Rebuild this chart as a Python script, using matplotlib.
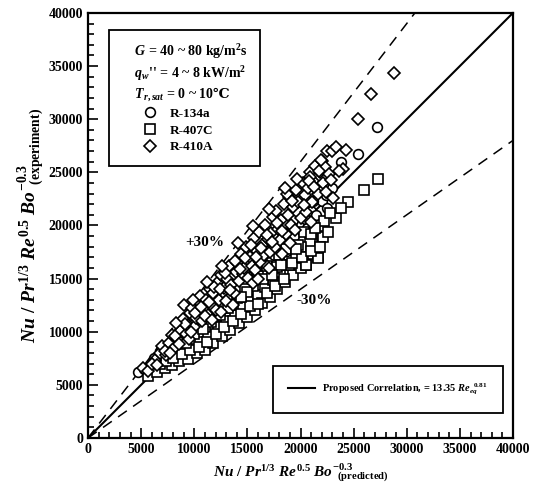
import numpy as np
import matplotlib
matplotlib.use("Agg")
import matplotlib.pyplot as plt
from matplotlib.lines import Line2D
from matplotlib.ticker import MultipleLocator

plt.rcParams['font.family'] = ['Liberation Serif', 'DejaVu Sans']
plt.rcParams['font.weight'] = 'bold'
plt.rcParams['mathtext.fontset'] = 'custom'
plt.rcParams['mathtext.rm'] = 'Liberation Serif:bold'
plt.rcParams['mathtext.it'] = 'Liberation Serif:bold:italic'
plt.rcParams['mathtext.bf'] = 'Liberation Serif:bold'
plt.rcParams['mathtext.sf'] = 'DejaVu Serif:bold'  # only used for the ℃ sign

# R-134a (circles): predicted, experiment
r134a_pred = [4700, 5300, 6200, 6900, 7500, 8000, 8500, 8800, 9300, 9600, 10100, 10600,
              11000, 11400, 11900, 12300, 12800, 13200, 13600, 14100, 14500, 14900, 15300,
              15800, 16200, 16600, 17000, 17500, 18000, 18400, 18900, 19400, 19900, 20400,
              20600, 21000, 21500, 22000, 22500, 23000, 23800, 25400, 27200,
              7200, 8300, 9900, 11600, 13000, 14700, 16400, 17800, 19300, 21200, 22400,
              18700, 12600]
r134a_exp = [6200, 6500, 7500, 8400, 8300, 9000, 9800, 9300, 10300, 11200, 10900, 11800,
             12400, 11200, 12900, 12400, 13700, 13200, 14500, 14000, 15200, 14600, 16100,
             15500, 16800, 16400, 17700, 17200, 18500, 18000, 19300, 19000, 20100, 20600,
             19800, 21400, 21000, 22300, 21600, 23500, 26000, 26700, 29300,
             7800, 8900, 10100, 12000, 14100, 15800, 17300, 19000, 20500, 22300, 22900,
             17600, 12800]

# R-407C (squares)
r407c_pred = [5600, 6500, 7200, 7900, 8600, 9400, 10300, 11000, 6800, 7600, 8300, 9000,
              9700, 10500, 11300, 11800, 12200, 12600, 13000, 13400, 13800, 14200, 14600,
              15000, 15300, 15700, 16000, 16400, 16700, 17100, 17400, 17800, 18100, 18500,
              18900, 19300, 19600, 20000, 20400, 20500, 20900, 21200, 21600, 22000, 22200,
              23300, 24500, 26000, 27300, 12000, 14000, 16000, 18000, 19000, 13500, 15500,
              17500, 10000, 11000, 12800, 14800, 16800, 18600, 20300, 21000, 17800, 18900,
              20000, 20500, 21600, 22100,
              7300, 8000, 8800, 9600, 10400, 11200, 12000, 12800, 13600, 14400, 15200,
              16000, 16800, 17600, 18400, 19200, 20100, 21000, 21800, 22600, 9200, 11600,
              13200, 15000, 16500, 18200, 19800, 21400, 22800, 23800, 10800, 12400, 14400,
              17300, 19600]
r407c_exp = [5800, 6200, 6600, 6900, 7200, 7400, 8000, 8300, 7000, 7700, 8100, 8600,
             9300, 9000, 9700, 8900, 10400, 9600, 11000, 10200, 11600, 10800, 12300,
             11400, 13000, 12000, 13500, 12700, 14200, 13300, 14900, 14000, 15600, 14700,
             16300, 15300, 17000, 16000, 17700, 16300, 18400, 17300, 17000, 19000, 20400,
             20700, 22200, 23300, 24400, 11500, 13200, 15200, 17200, 18000, 12500, 14300,
             16000, 9800, 10400, 12200, 14000, 16200, 17800, 19400, 19200, 16100, 16300,
             18000, 16300, 16900, 18900,
             7200, 7500, 7900, 8300, 8600, 9000, 9800, 10400, 11000, 11700, 12400,
             12600, 13600, 14300, 15000, 16500, 17000, 17600, 18000, 19400, 8900, 10900,
             12200, 13700, 15000, 16300, 18200, 19800, 21200, 21600, 10300, 11600, 13300,
             15300, 17800]

# R-410A (diamonds)
r410a_pred = [5200, 5600, 6300, 6800, 7000, 7300, 7600, 7900, 8100, 8400, 8700, 8900,
              9000, 9200, 9400, 9600, 9800, 10000, 10200, 10400, 10500, 10700, 10900, 11100,
              11300, 11500, 11600, 11800, 12000, 12100, 12300, 12500, 12700, 12800, 13000,
              13100, 13300, 13500, 13700, 13900, 14000, 14200, 14400, 14600, 14700, 14900,
              15100, 15200, 15400, 15600, 15700, 15900, 16100, 16200, 16400, 16600, 16700,
              16900, 17100, 17200, 17400, 17600, 17700, 17900, 18100, 18200, 18400, 18600,
              18800, 18900, 19100, 19300, 19500, 19600, 19800, 20000, 20200, 20400, 20500,
              20700, 20900, 21100, 21200, 21400, 21600, 21800, 22000, 22100, 22300, 22500,
              22700, 23000, 23300, 23100, 24000, 25400, 26600, 28800, 15500, 17000, 12500,
              9500, 19000, 21000, 20900, 21700,
              6000, 6500, 7200, 7700, 8200, 8600, 9100, 9700, 10100, 10600, 11000, 11400,
              11900, 12400, 12900, 13400, 13800, 14300, 14800, 15300, 15800, 16300, 16800,
              17300, 17800, 18300, 18700, 19200, 19700, 20300, 20800, 21300, 21900, 22400,
              8300, 9900, 11200, 12600, 14100, 15500, 17000, 18500, 13600, 16000, 18300,
              11700, 22900, 24300, 23600]
r410a_exp = [6600, 6300, 7300, 8000, 8700, 7800, 8900, 9700, 8500, 9300, 10100, 11200,
             12500, 9800, 10600, 11800, 12200, 10400, 11300, 12800, 13400, 11000, 12100, 13000,
             11600, 14000, 12500, 13600, 12000, 14600, 13000, 15300, 13700, 14100, 12900,
             15000, 16200, 14400, 13600, 15600, 16500, 14800, 17300, 15400, 16000, 18000,
             15100, 17000, 16200, 18800, 15800, 17600, 19400, 16600, 18200, 17200, 20000,
             18700, 17500, 19300, 20800, 18000, 21400, 19700, 18600, 20500, 22000, 19200,
             21000, 22700, 20000, 21700, 19600, 23300, 22200, 20700, 24000, 22900, 21300,
             23500, 25000, 22200, 24200, 25600, 23000, 25000, 26100, 24000, 25500, 27000,
             24800, 27000, 27400, 22600, 25300, 30000, 32400, 34300, 14600, 16000, 11900,
             9300, 18300, 20300, 24600, 25100,
             7000, 6900, 8200, 8000, 9600, 8800, 10700, 10000, 11800, 12300, 11500, 12800,
             14200, 14000, 15500, 13900, 16700, 15900, 16900, 18200, 17000, 17900, 19100,
             18400, 20200, 19500, 23000, 22300, 24400, 21900, 24200, 23600, 26200, 23100,
             10800, 13000, 14700, 16200, 18300, 19900, 21500, 23500, 12500, 15000, 17300,
             11100, 24300, 27100, 25100]

fig = plt.figure(figsize=(5.4, 4.96), dpi=100)
ax = fig.add_axes([0.163, 0.117, 0.787, 0.857])

ref = np.array([0, 40000])
ax.plot(ref, ref, color='black', lw=1.5, zorder=2)
ax.plot(ref, 1.3 * ref, color='black', lw=1.1, dashes=(7, 5), zorder=2)
ax.plot(ref, 0.7 * ref, color='black', lw=1.1, dashes=(7, 5), zorder=2)

mk = dict(linestyle='none', markerfacecolor='white', markeredgecolor='black', markeredgewidth=1.2)
ax.plot(r134a_pred, r134a_exp, marker='o', markersize=7, zorder=3, **mk)
ax.plot(r407c_pred, r407c_exp, marker='s', markersize=7, zorder=4, **mk)
ax.plot(r410a_pred, r410a_exp, marker='D', markersize=6, zorder=5, **mk)

ax.text(11000, 18350, '+30%', fontsize=11, ha='center', va='center')
ax.text(21300, 12900, '-30%', fontsize=11, ha='center', va='center')

ax.set_xlim(0, 40000)
ax.set_ylim(0, 40000)
ax.xaxis.set_major_locator(MultipleLocator(5000))
ax.yaxis.set_major_locator(MultipleLocator(5000))
ax.xaxis.set_minor_locator(MultipleLocator(1000))
ax.yaxis.set_minor_locator(MultipleLocator(1000))
ax.tick_params(which='both', direction='in', top=False, right=False, labelsize=10, width=1.2)
ax.tick_params(which='major', length=7)
ax.tick_params(which='minor', length=4)
for s in ax.spines.values():
    s.set_linewidth(1.6)

ax.set_xlabel(r'$Nu\ /\ Pr^{1/3}\ Re^{0.5}\ Bo^{-0.3}_{\ \ \mathrm{(predicted)}}$', fontsize=11, labelpad=4)
ax.set_ylabel(r'$Nu\ /\ Pr^{1/3}\ Re^{0.5}\ Bo^{-0.3}_{\ \ \mathrm{(experiment)}}$', fontsize=14, labelpad=2)

handles = [Line2D([], [], marker='o', markersize=7, **mk),
           Line2D([], [], marker='s', markersize=7, **mk),
           Line2D([], [], marker='D', markersize=6, **mk)]
title = ('    $G$ = 40 ~ 80 kg/m$^2$s\n'
         '    $q_w$\'\' = 4 ~ 8 kW/m$^2$\n'
         '    $T_{r,sat}$ = 0 ~ 10$\\mathsf{℃}$')
leg1 = ax.legend(handles, ['R-134a', 'R-407C', 'R-410A'], title=title, alignment='left',
                 loc='upper left', bbox_to_anchor=(0.049, 0.96), borderaxespad=0,
                 fontsize=9.5, title_fontsize=10, fancybox=False, edgecolor='black',
                 framealpha=1, handlelength=4.4, handletextpad=-0.7, labelspacing=0.35,
                 borderpad=0.95)
leg1.get_frame().set_linewidth(1.3)
ax.add_artist(leg1)

line_h = [Line2D([], [], color='black', lw=1.5)]
leg2 = ax.legend(line_h, [r'Proposed Correlation, = 13.35 $Re_{eq}^{\ \ 0.81}$'],
                 loc='lower right', bbox_to_anchor=(0.976, 0.059), borderaxespad=0,
                 fontsize=7.5, fancybox=False, edgecolor='black', framealpha=1,
                 handlelength=2.6, handletextpad=0.6, borderpad=1.5)
leg2.get_frame().set_linewidth(1.3)

fig.savefig('out.png', dpi=100)
